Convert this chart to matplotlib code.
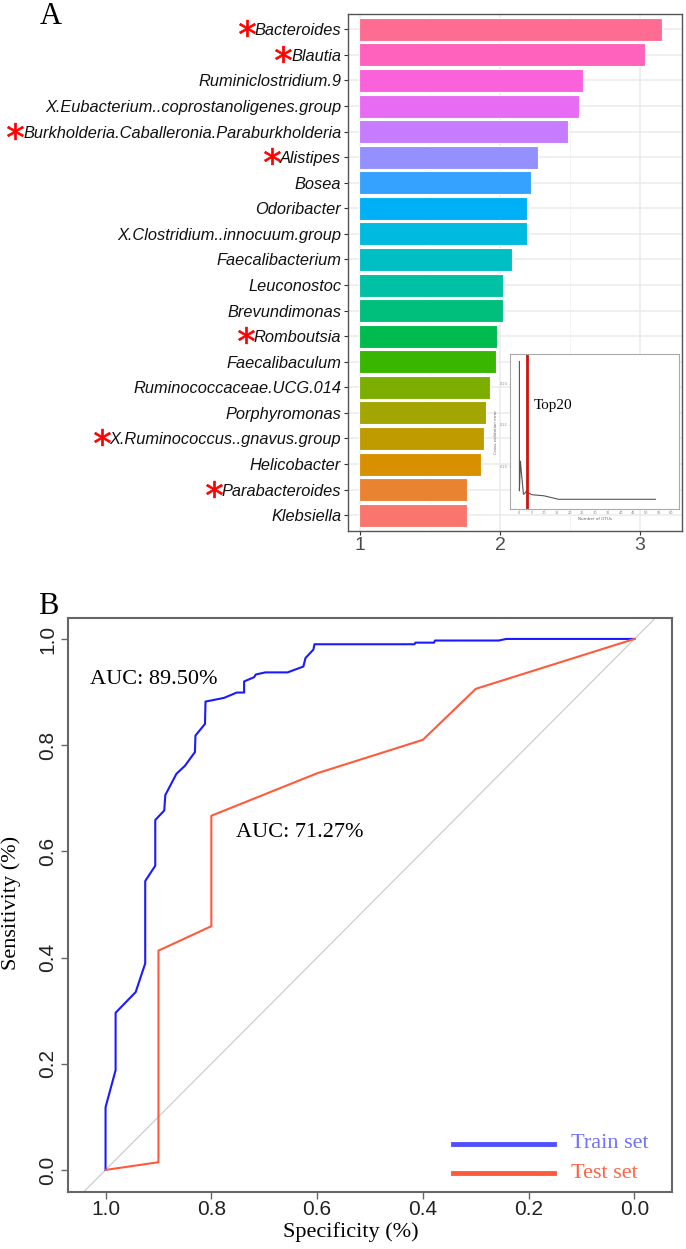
import numpy as np
import matplotlib
matplotlib.use("Agg")
import matplotlib.pyplot as plt
from matplotlib.transforms import IdentityTransform
from matplotlib.lines import Line2D

# ---- panel A data (top to bottom) ----
genera = ["Bacteroides", "Blautia", "Ruminiclostridium.9",
          "X.Eubacterium..coprostanoligenes.group",
          "Burkholderia.Caballeronia.Paraburkholderia", "Alistipes", "Bosea",
          "Odoribacter", "X.Clostridium..innocuum.group", "Faecalibacterium",
          "Leuconostoc", "Brevundimonas", "Romboutsia", "Faecalibaculum",
          "Ruminococcaceae.UCG.014", "Porphyromonas", "X.Ruminococcus..gnavus.group",
          "Helicobacter", "Parabacteroides", "Klebsiella"]
importance = [3.156, 3.037, 2.589, 2.561, 2.482, 2.272, 2.219, 2.194, 2.191, 2.084,
              2.018, 2.018, 1.981, 1.971, 1.927, 1.899, 1.887, 1.864, 1.764, 1.764]
starred = ["Bacteroides", "Blautia", "Burkholderia.Caballeronia.Paraburkholderia",
           "Alistipes", "Romboutsia", "X.Ruminococcus..gnavus.group", "Parabacteroides"]
# ggplot hue palette, bottom bar first
bar_cols = ["#F8766D", "#EA8331", "#D89000", "#C09B00", "#A3A500", "#7CAE00",
            "#39B600", "#00BB4E", "#00BF7D", "#00C1A3", "#00BFC4", "#00BAE0",
            "#00B0F6", "#35A2FF", "#9590FF", "#C77CFF", "#E76BF3", "#FA62DB",
            "#FF62BC", "#FF6C91"]

# inset: cross-validation error vs number of OTUs
cv_n = [0.2, 0.2, 0.6, 1.0, 1.8, 2.5, 3.0, 3.7, 5.2, 9.8, 15.6, 53.7]
cv_err = [0.2507, 0.1881, 0.2025, 0.1967, 0.1864, 0.1871, 0.1881, 0.1871,
          0.1862, 0.1857, 0.1840, 0.1840]
cv_cut = 3.0

# ---- panel B data ----
train_spec = [1.0, 1.0, 0.981, 0.981, 0.943, 0.925, 0.925, 0.906, 0.906, 0.889, 0.887,
              0.866, 0.850, 0.831, 0.830, 0.812, 0.811, 0.776, 0.752, 0.738, 0.738,
              0.719, 0.716, 0.698, 0.656, 0.626, 0.622, 0.607, 0.605, 0.416, 0.414,
              0.379, 0.377, 0.257, 0.242, 0.0]
train_sens = [0.0, 0.118, 0.188, 0.296, 0.335, 0.389, 0.544, 0.573, 0.659, 0.677, 0.706,
              0.746, 0.761, 0.787, 0.818, 0.840, 0.882, 0.889, 0.899, 0.899, 0.920,
              0.928, 0.933, 0.937, 0.937, 0.948, 0.964, 0.980, 0.990, 0.990, 0.993,
              0.993, 0.997, 0.997, 1.0, 1.0]
test_spec = [1.0, 0.9, 0.9, 0.8, 0.8, 0.6, 0.4, 0.3, 0.0]
test_sens = [0.0, 0.0145, 0.413, 0.459, 0.667, 0.747, 0.810, 0.906, 1.0]
auc_train = "AUC: 89.50%"
auc_test = "AUC: 71.27%"

W, H = 686, 1249
fig = plt.figure(figsize=(W / 100, H / 100), dpi=100)
sans = "Liberation Sans"
serif = "Liberation Serif"

def fx(px):
    return px / W

def fy(py):
    return 1 - py / H

# ================= panel A =================
axA = fig.add_axes([fx(347.5), fy(530.5), fx(681.7 - 347.5), (530.5 - 14) / H])
n = len(genera)
ypos = np.arange(n)[::-1]
base = 0.99
axA.barh(ypos, np.array(importance) - base, left=base, height=0.9,
         color=bar_cols[::-1], edgecolor="white", linewidth=0.8, zorder=3)
axA.set_xlim(0.909, 3.298)
axA.set_ylim(-0.6, n - 0.4)
axA.set_yticks(ypos)
axA.set_yticklabels(genera, fontstyle="italic", fontsize=11.8, family=sans, color="#111111")
axA.set_xticks([1, 2, 3])
axA.set_xticklabels(["1", "2", "3"], fontsize=14, family=sans, color="#4d4d4d")
axA.set_xticks([1.5, 2.5], minor=True)
axA.tick_params(axis="y", length=3, width=0.8, color="#333333", pad=1.5)
axA.tick_params(axis="x", which="major", length=3, width=0.8, color="#333333", pad=2)
axA.tick_params(axis="x", which="minor", length=0)
axA.grid(True, which="major", color="#EBEBEB", linewidth=1.1, zorder=0)
axA.grid(True, which="minor", axis="x", color="#F2F2F2", linewidth=0.6, zorder=0)
axA.set_axisbelow(True)
for s in axA.spines.values():
    s.set_color("#555555")
    s.set_linewidth(1.0)

fig.text(fx(40), fy(17), "A", family=serif, fontsize=22, ha="left", va="center")

# inset
axI = fig.add_axes([fx(510), fy(509), fx(679 - 510), (509 - 354) / H])
axI.plot(cv_n, cv_err, color="#555555", lw=0.8)
axI.axvline(cv_cut, color="#CC1414", lw=2)
axI.set_xlim(-3.5, 63)
axI.set_ylim(0.1793, 0.2543)
axI.set_xticks(np.arange(0, 61, 5))
axI.set_yticks([0.20, 0.22, 0.24])
axI.tick_params(labelsize=2.5, length=1, width=0.4, colors="#888888", pad=0.8)
axI.set_xlabel("Number of OTUs", fontsize=3, color="#666666", labelpad=1)
axI.set_ylabel("Cross-validation error", fontsize=3, color="#666666", labelpad=1)
for s in axI.spines.values():
    s.set_color("#AAAAAA")
    s.set_linewidth(0.8)
axI.text(0.14, 0.67, "Top20", transform=axI.transAxes, family=serif, fontsize=11,
         ha="left", va="center")

# ================= panel B =================
axB = fig.add_axes([fx(68), fy(1191.7), fx(672 - 68), (1191.7 - 617.7) / H])
axB.plot([1.2, -0.2], [-0.2, 1.2], color="#C8C8C8", lw=0.8)
axB.plot(train_spec, train_sens, color="#1A1AFF", lw=1.5)
axB.plot(test_spec, test_sens, color="#FF5A3C", lw=1.5)
axB.set_xlim(1.071, -0.071)
axB.set_ylim(-0.041, 1.04)
ticks = [0.0, 0.2, 0.4, 0.6, 0.8, 1.0]
axB.set_xticks(ticks)
axB.set_xticklabels([f"{t:.1f}" for t in ticks], fontsize=15, family=sans, color="#222222")
axB.set_yticks(ticks)
axB.set_yticklabels([f"{t:.1f}" for t in ticks], fontsize=15, family=sans, color="#222222",
                    rotation=90, va="center")
axB.tick_params(axis="x", length=5, width=1, color="#666666", pad=1)
axB.tick_params(axis="y", length=5, width=1, color="#666666", pad=3)
for s in axB.spines.values():
    s.set_color("#666666")
    s.set_linewidth(1.5)

axB.text(1.030, 0.923, auc_train, family=serif, fontsize=16, ha="left", va="center")
axB.text(0.754, 0.635, auc_test, family=serif, fontsize=16, ha="left", va="center")

fig.text(fx(351), fy(1232), "Specificity (%)", family=serif, fontsize=16, ha="center", va="center")
fig.text(fx(11), fy(903), "Sensitivity (%)", family=serif, fontsize=16, ha="center", va="center",
         rotation=90)
fig.text(fx(38), fy(607), "B", family=serif, fontsize=22, ha="left", va="center")

# legend drawn manually (R style, no frame)
leg = [("Train set", "#5050FF", "#7070FF", 1144), ("Test set", "#FF5A3C", "#FF6347", 1173)]
for lab, lc, tc, py in leg:
    fig.add_artist(Line2D([fx(453), fx(554)], [fy(py), fy(py)], color=lc, lw=3.5,
                          transform=fig.transFigure))
    fig.text(fx(571), fy(py), lab, family=serif, fontsize=16, color=tc, ha="left", va="center")

# red asterisks before the marked genera
fig.canvas.draw()
renderer = fig.canvas.get_renderer()
for lab in axA.get_yticklabels():
    if lab.get_text() in starred:
        bb = lab.get_window_extent(renderer)
        idx = genera.index(lab.get_text())
        yc = axA.transData.transform((1, ypos[idx]))[1]
        fig.add_artist(Line2D([bb.x0 - 8], [yc + 1], marker="$*$", ms=12, color="#FF0000",
                              mew=0.5, transform=IdentityTransform()))

fig.savefig("out.png", dpi=100)
